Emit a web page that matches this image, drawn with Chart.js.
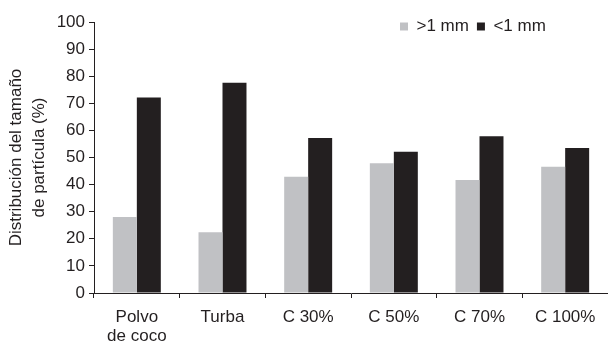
<!DOCTYPE html>
<html>
<head>
<meta charset="utf-8">
<script src="https://cdn.jsdelivr.net/npm/chart.js@4"></script>
<style>
  html, body { margin: 0; padding: 0; background: #fff; }
  #wrap { width: 608px; height: 341px; position: relative; }
</style>
</head>
<body>
<div id="wrap"><canvas id="c" width="608" height="341"></canvas></div>
<script>
const categories = [["Polvo", "de coco"], "Turba", "C 30%", "C 50%", "C 70%", "C 100%"];
const seriesNames = [">1 mm", "<1 mm"];
const coarse = [28.0, 22.4, 42.9, 47.9, 41.7, 46.6];
const fine = [72.1, 77.6, 57.2, 52.1, 57.8, 53.5];
const yTitle = ["Distribución del tamaño", "de partícula (%)"];

const FONT = "'Liberation Sans', Arial, sans-serif";
const INK = "#231f20";

const legendPlace = {
  id: 'legendPlace',
  beforeInit(chart) {
    const lg = chart.legend;
    const orig = lg.fit;
    lg.fit = function () { orig.call(this); this.height = 22; };
  },
  afterLayout(chart) {
    const lg = chart.legend;
    lg.left = 392; lg.right = 600; lg.top = 10; lg.bottom = 32;
  }
};

new Chart(document.getElementById('c'), {
  type: 'bar',
  data: {
    labels: categories,
    datasets: [
      { label: seriesNames[0], data: coarse, backgroundColor: '#c0c1c4', borderWidth: 0 },
      { label: seriesNames[1], data: fine, backgroundColor: INK, borderWidth: 0 }
    ]
  },
  plugins: [legendPlace],
  options: {
    responsive: false,
    animation: false,
    layout: { padding: { left: 0, right: -5, top: 0, bottom: 0 } },
    datasets: { bar: { categoryPercentage: 0.56, barPercentage: 1.0 } },
    plugins: {
      legend: {
        position: 'top', align: 'start',
        labels: { boxWidth: 8, boxHeight: 8, padding: 8, color: INK, font: { family: FONT, size: 17 } }
      },
      tooltip: { enabled: false }
    },
    scales: {
      x: {
        grid: { drawOnChartArea: false, offset: true, tickLength: 5, color: INK, tickColor: INK },
        border: { color: INK, width: 1 },
        ticks: { color: INK, font: { family: FONT, size: 17, lineHeight: 1.12 }, padding: 10, maxRotation: 0, autoSkip: false },
        afterFit(s) { s.height = 48; }
      },
      y: {
        min: 0, max: 100,
        grid: { drawOnChartArea: false, tickLength: 5, color: INK, tickColor: INK },
        border: { color: INK, width: 1 },
        ticks: { stepSize: 10, color: INK, font: { family: FONT, size: 17 }, padding: 4 },
        title: { display: true, text: yTitle, color: INK, font: { family: FONT, size: 17, lineHeight: 1.35 }, padding: { top: 5, bottom: 0 } },
        afterFit(s) { s.width = 94; }
      }
    }
  }
});
</script>
</body>
</html>
